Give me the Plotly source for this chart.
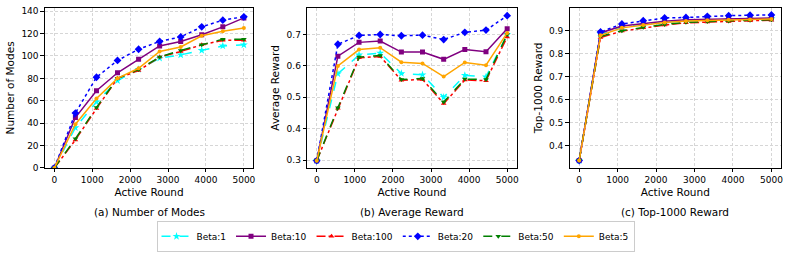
import plotly.graph_objects as go

rounds = [0, 555, 1111, 1666, 2222, 2777, 3333, 3888, 4444, 5000]
labels = ["Beta:1", "Beta:10", "Beta:100", "Beta:20", "Beta:50", "Beta:5"]

modes = {
    "Beta:1":   [0, 36, 59, 78, 88, 98, 101, 105, 109, 110],
    "Beta:10":  [0, 45, 69, 85, 97, 109, 113, 119, 126, 134],
    "Beta:100": [0, 25, 53, 80, 87, 99, 104, 110, 114, 114],
    "Beta:20":  [0, 49, 81, 96, 106, 113, 117, 126, 132, 135],
    "Beta:50":  [0, 26, 54, 80, 88, 99, 105, 110, 115, 115],
    "Beta:5":   [0, 39, 62, 80, 89, 104, 108, 118, 122, 125],
}
avg_reward = {
    "Beta:1":   [0.298, 0.575, 0.635, 0.641, 0.576, 0.572, 0.500, 0.570, 0.565, 0.700],
    "Beta:10":  [0.298, 0.631, 0.675, 0.679, 0.644, 0.644, 0.621, 0.652, 0.645, 0.718],
    "Beta:100": [0.298, 0.465, 0.626, 0.630, 0.554, 0.557, 0.480, 0.555, 0.553, 0.692],
    "Beta:20":  [0.298, 0.669, 0.697, 0.700, 0.696, 0.698, 0.684, 0.707, 0.714, 0.760],
    "Beta:50":  [0.298, 0.467, 0.628, 0.633, 0.557, 0.560, 0.485, 0.558, 0.557, 0.700],
    "Beta:5":   [0.298, 0.600, 0.652, 0.658, 0.612, 0.608, 0.566, 0.611, 0.602, 0.705],
}
top_reward = {
    "Beta:1":   [0.336, 0.885, 0.915, 0.928, 0.937, 0.943, 0.946, 0.948, 0.950, 0.952],
    "Beta:10":  [0.336, 0.890, 0.920, 0.932, 0.941, 0.947, 0.950, 0.952, 0.953, 0.955],
    "Beta:100": [0.336, 0.870, 0.898, 0.912, 0.924, 0.934, 0.938, 0.940, 0.943, 0.945],
    "Beta:20":  [0.336, 0.894, 0.929, 0.943, 0.955, 0.957, 0.962, 0.965, 0.967, 0.968],
    "Beta:50":  [0.336, 0.875, 0.900, 0.915, 0.927, 0.936, 0.940, 0.942, 0.945, 0.947],
    "Beta:5":   [0.336, 0.880, 0.912, 0.925, 0.935, 0.942, 0.945, 0.947, 0.948, 0.950],
}
panels = [
    (modes, "Number of Modes", "(a) Number of Modes", [0, 143], 20),
    (avg_reward, "Average Reward", "(b) Average Reward", [0.275, 0.785], 0.1),
    (top_reward, "Top-1000 Reward", "(c) Top-1000 Reward", [0.304, 0.999], 0.1),
]

styles = {
    "Beta:1":   dict(color="#00ffff", dash="dash", symbol="star", msize=6, width=1.5),
    "Beta:10":  dict(color="#800080", dash="solid", symbol="square", msize=5, width=1.5),
    "Beta:100": dict(color="#ff0000", dash="dashdot", symbol="triangle-up", msize=5, width=1.5),
    "Beta:20":  dict(color="#0000ff", dash="dot", symbol="diamond", msize=6, width=1.5),
    "Beta:50":  dict(color="#008000", dash="dash", symbol="triangle-down", msize=5, width=1.5),
    "Beta:5":   dict(color="#ffa500", dash="solid", symbol="circle", msize=4, width=1.5),
}

W, H = 793, 253
xdom = [(45 / W, 254 / W), (308 / W, 518 / W), (571 / W, 783 / W)]
ydom = ((H - 171) / H, (H - 7) / H)

fig = go.Figure()
font = "DejaVu Sans"
for i, (data, ytitle, caption, yrange, dtick) in enumerate(panels):
    xa = "x" if i == 0 else f"x{i+1}"
    ya = "y" if i == 0 else f"y{i+1}"
    for lab in labels:
        s = styles[lab]
        fig.add_trace(go.Scatter(
            x=rounds, y=data[lab], name=lab, mode="lines+markers",
            line=dict(color=s["color"], dash=s["dash"], width=s["width"]),
            marker=dict(symbol=s["symbol"], size=s["msize"], color=s["color"]),
            xaxis=xa, yaxis=ya, showlegend=(i == 0), legendgroup=lab,
        ))
    axis_common = dict(
        showline=True, linecolor="black", linewidth=1, mirror=True,
        ticks="outside", ticklen=3.5, tickcolor="black",
        showgrid=True, gridcolor="#d6d6d6", griddash="3px,2px", gridwidth=0.8,
        zeroline=False, tickfont=dict(size=9, color="black", family=font),
    )
    fig.layout[f"xaxis{'' if i == 0 else i+1}"] = dict(
        axis_common, domain=xdom[i], anchor=ya, range=[-250, 5250],
        tick0=0, dtick=1000,
        title=dict(text="Active Round", font=dict(size=10.5, color="black", family=font), standoff=4),
    )
    fig.layout[f"yaxis{'' if i == 0 else i+1}"] = dict(
        axis_common, domain=ydom, anchor=xa, range=yrange, dtick=dtick,
        title=dict(text=ytitle, font=dict(size=10.5, color="black", family=font), standoff=4),
    )
    fig.add_annotation(
        text=caption, xref="paper", yref="paper",
        x=(xdom[i][0] + xdom[i][1]) / 2, y=(H - 216) / H,
        showarrow=False, xanchor="center", yanchor="middle",
        font=dict(size=10.5, color="black", family=font),
    )

fig.update_layout(
    width=W, height=H, margin=dict(l=0, r=0, t=0, b=0),
    plot_bgcolor="white", paper_bgcolor="white",
    font=dict(family=font, color="black"),
    legend=dict(
        orientation="h", x=0.5, xanchor="center", y=(H - 241) / H, yanchor="middle",
        bordercolor="#cccccc", borderwidth=1, font=dict(size=9, family=font),
        itemwidth=30, tracegroupgap=0,
    ),
)
fig.write_html("out.html", config={"displayModeBar": False},
               post_script="document.body.style.margin='0px';")
